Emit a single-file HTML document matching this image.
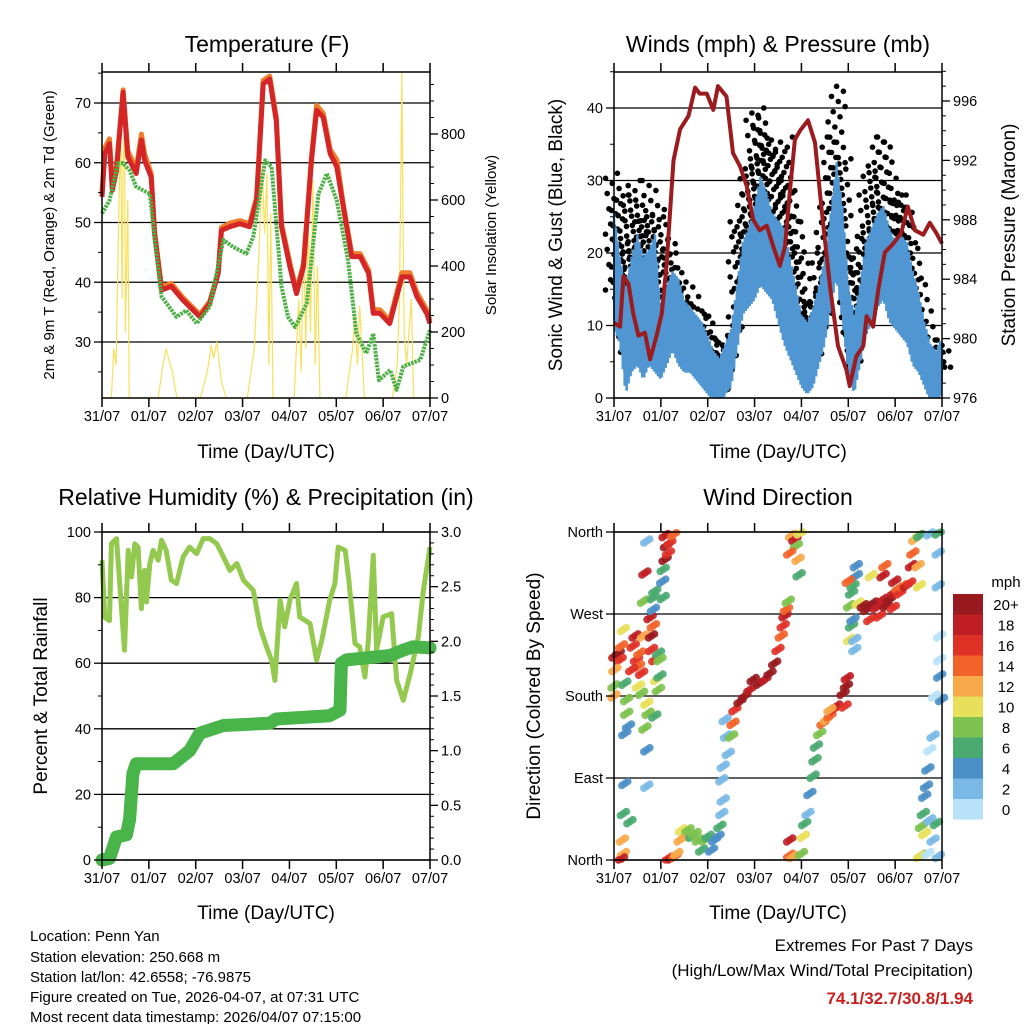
<!DOCTYPE html>
<html><head><meta charset="utf-8"><title>Station Meteogram</title>
<style>
html,body{margin:0;padding:0;background:#fff;}
svg{display:block;font-family:"Liberation Sans",Arial,sans-serif;}
</style></head>
<body>
<svg id="root" width="1024" height="1024" viewBox="0 0 1024 1024" xmlns="http://www.w3.org/2000/svg">
<rect width="1024" height="1024" fill="#fff"/>
<g id="layer-bg"></g>
<g id="layer-data"></g>
<g id="layer-axes"></g>
<g id="layer-text">
 <text x="267" y="52" font-size="23" text-anchor="middle">Temperature (F)</text>
 <text x="778" y="52" font-size="23" text-anchor="middle">Winds (mph) &amp; Pressure (mb)</text>
 <text x="266" y="505" font-size="23" text-anchor="middle">Relative Humidity (%) &amp; Precipitation (in)</text>
 <text x="778" y="505" font-size="23" text-anchor="middle">Wind Direction</text>
 <text x="266" y="458" font-size="19" text-anchor="middle">Time (Day/UTC)</text>
 <text x="778" y="458" font-size="19" text-anchor="middle">Time (Day/UTC)</text>
 <text x="266" y="919" font-size="19" text-anchor="middle">Time (Day/UTC)</text>
 <text x="778" y="919" font-size="19" text-anchor="middle">Time (Day/UTC)</text>
 <text transform="translate(54,235) rotate(-90)" font-size="15" text-anchor="middle">2m &amp; 9m T (Red, Orange) &amp; 2m Td (Green)</text>
 <text transform="translate(496,235) rotate(-90)" font-size="15" text-anchor="middle">Solar Insolation (Yellow)</text>
 <text transform="translate(562,235) rotate(-90)" font-size="19" text-anchor="middle">Sonic Wind &amp; Gust (Blue, Black)</text>
 <text transform="translate(1015,235) rotate(-90)" font-size="19" text-anchor="middle">Station Pressure (Maroon)</text>
 <text transform="translate(47,696) rotate(-90)" font-size="19" text-anchor="middle">Percent &amp; Total Rainfall</text>
 <text transform="translate(540,696) rotate(-90)" font-size="19" text-anchor="middle">Direction (Colored By Speed)</text>
 <g font-size="15">
  <text x="30" y="941">Location: Penn Yan</text>
  <text x="30" y="962">Station elevation: 250.668 m</text>
  <text x="30" y="982">Station lat/lon: 42.6558; -76.9875</text>
  <text x="30" y="1002">Figure created on Tue, 2026-04-07, at 07:31 UTC</text>
  <text x="30" y="1022">Most recent data timestamp: 2026/04/07 07:15:00</text>
 </g>
 <g text-anchor="end">
  <text x="973" y="951" font-size="17">Extremes For Past 7 Days</text>
  <text x="973" y="976" font-size="17">(High/Low/Max Wind/Total Precipitation)</text>
  <text x="973" y="1004" font-size="17" font-weight="bold" fill="#c8201f">74.1/32.7/30.8/1.94</text>
 </g>
 <text x="1006" y="587" font-size="15" text-anchor="middle">mph</text>
</g>
</svg>
<script>
// ---- Shared axis data ----
const dayLabels = ["31/07","01/07","02/07","03/07","04/07","05/07","06/07","07/07"];

// ---- Temperature panel data ----
const tempTimes = [0,0.06,0.16,0.22,0.31,0.45,0.55,0.73,0.84,0.91,1.05,1.12,1.27,1.48,1.73,2.09,2.3,2.48,2.55,2.73,2.94,3.15,3.3,3.44,3.58,3.72,3.83,4.01,4.15,4.3,4.47,4.58,4.72,4.87,5.01,5.15,5.33,5.51,5.69,5.79,5.93,6.14,6.4,6.57,6.72,6.93,7.0];
const tempRed = [54.3,61.5,63.2,55.4,58.7,71.8,61,58.2,63.8,60.4,57.6,48.2,38.7,39.3,37,34.2,36.5,41.5,48.7,49.3,49.8,49.3,53.7,73.2,74,67,49.3,42.6,38.1,42.6,60.4,68.8,67.6,61.5,59.3,52.6,44.3,44.3,41.5,34.8,34.8,33.1,40.9,40.9,37.6,34.8,33.1];
const tempOrange = [55,62.5,64,56,59.5,72.2,62,59,64.8,61.5,58.2,48.6,39.2,39.8,37.4,34.6,36.8,41.8,49.2,49.9,50.3,49.8,54.2,73.8,74.5,67.6,49.8,43.2,38.6,43.1,61,69.6,68.3,62.2,60.5,53.1,44.8,44.8,42,35.4,35.4,33.6,41.6,41.6,38.3,35.4,33.6];
const dewTimes = [0,0.16,0.34,0.45,0.59,0.73,1.02,1.12,1.27,1.59,1.8,2.02,2.3,2.59,2.8,3.08,3.23,3.48,3.62,3.83,3.97,4.12,4.37,4.62,4.8,5.01,5.25,5.43,5.64,5.79,5.91,6.15,6.29,6.43,6.79,7.0];
const dewVals = [51.5,53.7,59.9,59.9,58.7,56,54.8,47.6,37.6,34.2,35.3,33.1,35.9,47.1,45.9,44.8,47.6,60.4,59.3,39.3,34.2,32.5,36.5,54.8,58.2,53.7,43.7,31.4,28.1,31.4,23.6,25.3,22,25.9,27,32];
const solarTimes = [0,0.2,0.25,0.3,0.35,0.4,0.43,0.45,0.48,0.5,0.55,0.58,1.2,1.3,1.37,1.42,1.5,1.6,2.1,2.25,2.33,2.38,2.45,2.55,2.65,3.1,3.25,3.35,3.42,3.47,3.52,3.56,3.6,3.65,4.1,4.2,4.25,4.3,4.35,4.4,4.45,4.5,4.55,4.6,4.65,5.2,5.35,5.4,5.45,5.5,5.6,6.2,6.3,6.35,6.4,6.42,6.45,6.5,6.6,6.65,7.0];
const solarVals = [0,0,150,100,500,820,300,700,850,200,600,0,0,100,150,120,80,0,0,80,160,120,170,50,0,0,150,450,700,500,680,100,560,0,0,300,80,500,150,550,200,660,100,400,0,0,150,250,100,280,0,0,100,300,990,600,200,100,300,0,0];
const tempTicks = [30,40,50,60,70];
const solarTicks = [0,200,400,600,800];

// ---- Wind panel data (3-hourly) ----
const windTimes = [0,0.125,0.25,0.375,0.5,0.625,0.75,0.875,1,1.125,1.25,1.375,1.5,1.625,1.75,1.875,2,2.125,2.25,2.375,2.5,2.625,2.75,2.875,3,3.125,3.25,3.375,3.5,3.625,3.75,3.875,4,4.125,4.25,4.375,4.5,4.625,4.75,4.875,5,5.125,5.25,5.375,5.5,5.625,5.75,5.875,6,6.125,6.25,6.375,6.5,6.625,6.75,6.875,7];
const windHigh = [24,18,14,18,21,18,19,21,10,14,16,15,12,11,10,9,7,5,4,6,8,14,20,22,25,29,27,24,23,22,18,14,10,9,11,14,18,24,31,25,14,10,14,20,22,24,25,22,20,21,20,16,13,9,6,5,7];
const windLow = [11,9,2,5,6,4,6,5,4,6,8,6,5,5,4,3,2,1,0,2,3,8,13,14,15,17,16,15,12,9,7,5,3,2,3,6,9,14,18,12,5,2,6,10,12,14,15,12,11,10,9,6,5,3,1,1,2];
const gustMax = [31,28,22,30,28,25,30,25,26,22,20,18,16,14,13,12,11,9,8,8,10,25,28,33,39,40,37,35,34,36,30,25,20,14,14,20,27,36,43,33,20,18,22,28,32,36,36,31,28,28,27,22,17,12,8,7,8];
const pressTimes = [0,0.13,0.2,0.31,0.41,0.52,0.66,0.77,0.91,1.02,1.12,1.27,1.41,1.59,1.73,1.83,1.98,2.12,2.22,2.4,2.54,2.69,2.83,2.97,3.11,3.26,3.4,3.54,3.65,3.75,3.86,3.97,4.14,4.29,4.43,4.61,4.78,4.96,5.03,5.17,5.32,5.39,5.53,5.64,5.78,5.96,6.13,6.27,6.42,6.6,6.74,6.88,7.0];
const pressVals = [981.05,980.8,984.2,983.7,981.7,980.2,980.4,978.6,980.2,981.7,984.9,992,994.1,995,996.9,996.5,996.5,995.4,997,996.3,992.5,991.6,990.3,988,987.3,987.6,986.2,984.9,986.2,989.8,993.4,994,994.7,993.2,988.7,983.5,979.5,977.9,976.8,978.8,979.5,981.5,980.8,983.3,985.8,986.4,987.1,988.9,987.3,987,987.8,987.1,986.4];
const windTicks = [0,10,20,30,40];
const pressTicks = [976,980,984,988,992,996];

// ---- Humidity / precipitation data ----
const rhTimes = [0,0.06,0.16,0.2,0.31,0.41,0.48,0.56,0.63,0.7,0.77,0.84,0.91,0.95,1.02,1.09,1.2,1.27,1.37,1.48,1.59,1.73,1.87,2.02,2.16,2.3,2.45,2.59,2.73,2.88,3.02,3.23,3.37,3.51,3.62,3.69,3.8,3.9,4.01,4.15,4.22,4.44,4.58,4.69,4.86,4.97,5.04,5.19,5.26,5.4,5.5,5.61,5.68,5.79,5.86,6.0,6.18,6.29,6.43,6.58,6.75,6.86,7.0];
const rhVals = [91.4,74,73,96.4,98,78,64,94.4,86.3,96.4,95.4,76.6,88.3,78.7,90.4,94.4,91.4,97.5,94.4,85.3,84.3,92.4,95.4,93.4,98,98,96.4,92.4,88.3,90.4,85.3,82.2,71.1,65,60.9,54.8,79.2,71.1,79.2,84.3,74.1,72.1,60.9,67,79.2,84.3,95.4,94.4,86.3,66,65,55.8,66,92.9,64,74.1,75.1,54.8,48.7,56.9,68,82.2,95.4];
const rainTimes = [0,0.16,0.31,0.52,0.59,0.66,0.73,1.52,1.87,2.09,2.59,3.58,3.72,4.86,5.08,5.11,5.22,6.15,6.43,6.64,7.0];
const rainVals = [0,0.015,0.21,0.23,0.37,0.79,0.88,0.88,1.0,1.16,1.23,1.25,1.29,1.32,1.37,1.80,1.83,1.87,1.92,1.95,1.94];
const rhTicks = [0,20,40,60,80,100];
const rainTicks = ["0.0","0.5","1.0","1.5","2.0","2.5","3.0"];

// ---- Wind direction data ----
const dirLabels = ["North","East","South","West","North"];
const dirTimes = [
0.02,0.09,0.13,0.02,0,0,0.2,0.16,0.23,0.27,
0.27,0.23,0.31,0.23,0.2,0.34,0.18,0.2,0.16,0.41,
0.45,0.48,0.52,0.38,0.55,0.59,0.52,0.63,0.63,0.66,
0.7,0.77,0.8,0.8,0.84,0.87,0.95,0.98,0.91,0.95,
0.7,0.73,0.87,0.7,0.66,0.7,0.84,0.87,0.98,0.59,
1.09,1.12,1.19,1.27,1.09,1.16,1.05,1.04,1.05,0.84,
1.16,1.23,1.3,1.34,1.41,1.44,1.51,1.58,1.66,1.73,
1.8,1.87,1.94,2.01,2.08,2.15,2.22,2.26,2.3,2.33,
2.3,2.33,2.44,2.4,2.37,2.51,2.54,2.58,2.69,2.79,
2.9,2.97,3.11,3.22,3.33,3.43,3.5,3.57,3.61,3.65,
3.68,3.72,
3.79,3.86,3.89,3.97,3.93,3.95,3.75,
3.75,3.75,3.82,4.0,4.04,4.07,4.14,4.18,4.25,4.29,
4.32,4.39,4.46,4.53,4.61,4.68,4.75,4.61,4.89,4.93,
4.96,4.98,
5.03,5.07,5.1,5.14,5.14,5.03,5.07,5.1,5.17,5.21,
5.32,5.39,5.46,5.53,5.6,5.67,5.74,5.81,5.88,5.96,
5.96,5.99,6.06,6.1,6.17,6.24,6.31,6.35,6.38,6.42,
6.49,6.49,6.52,5.74,5.78,5.49,5.17,5.0,
6.52,6.74,6.92,6.92,6.92,6.95,6.95,6.95,6.99,6.84,
6.81,6.74,6.7,6.67,6.63,6.6,6.56,6.63,6.74,6.81,
6.88,6.92,6.56,6.52,6.7];
const dirDeg = [
224,227,220,209,191,180,253,235,194,176,
161,139,147,84,51,42,22,7,1,235,
246,220,213,209,227,205,191,246,284,315,
350,266,246,231,257,220,227,220,198,187,
172,161,158,121,145,81,288,295,202,183,
356,345,348,357,330,337,319,306,288,275,
2,2,4,7,22,33,26,33,26,29,
22,11,22,26,11,22,26,37,51,66,
88,103,117,136,154,136,150,165,174,180,
187,198,194,198,205,216,231,246,257,268,
275,284,
356,352,345,359,330,313,337,
22,5,4,7,26,40,51,73,92,110,
125,139,150,154,158,165,169,165,183,169,
191,200,
242,257,264,242,231,279,293,301,312,282,
279,275,264,282,277,268,286,279,286,277,
293,306,298,293,301,301,304,323,337,352,
356,323,301,312,323,312,323,306,
356,358,359,337,301,246,220,202,176,180,
136,121,100,81,70,51,37,29,44,22,
40,4,5,4,7];
const dirSpeed = [
18,20,16,12,8,12,10,14,6,8,
8,4,4,4,6,6,12,12,18,16,
18,16,14,16,14,16,10,12,8,18,
2,18,20,16,14,16,6,8,10,8,
10,8,6,4,8,2,6,6,6,8,
18,20,16,14,20,16,6,4,6,4,
16,18,14,12,12,10,12,8,6,8,
8,6,8,6,4,4,4,6,2,2,
2,2,2,2,2,8,14,16,20,20,
18,20,20,18,20,20,16,14,16,18,
14,8,
12,18,8,10,12,6,14,
18,14,12,8,10,6,2,4,6,6,
6,8,14,12,14,16,18,12,20,16,
20,18,
10,6,4,2,2,8,6,6,4,10,
20,20,16,20,18,16,18,20,20,16,
18,18,14,16,14,18,16,18,14,12,
10,12,10,18,14,10,4,14,
6,2,6,2,2,0,0,4,4,0,
2,0,4,4,4,6,8,10,2,2,
6,2,8,10,0];
const speedLabels = ["20+","18","16","14","12","10","8","6","4","2","0"];
const speedColors = ["#981a1e","#bf1e24","#e03127","#f26329","#f8a94a","#e8e05a","#7dc24e","#4aaa70","#4a8fc8","#7ab9e6","#b8e2f7"];

// ---- Helpers ----
const NS = "http://www.w3.org/2000/svg";
const gBg = document.getElementById("layer-bg");
const gData = document.getElementById("layer-data");
const gAx = document.getElementById("layer-axes");
function mk(tag, parent, attrs) {
  const e = document.createElementNS(NS, tag);
  for (const k in attrs) e.setAttribute(k, attrs[k]);
  parent.appendChild(e);
  return e;
}
function lin(d0, d1, r0, r1) { return v => r0 + (v - d0) * (r1 - r0) / (d1 - d0); }
function pathFrom(xs, ys, fx, fy) {
  return xs.map((t, i) => (i ? "L" : "M") + fx(t).toFixed(1) + "," + fy(ys[i]).toFixed(1)).join("");
}

const panels = {
  temp: {x0:102, x1:430, y0:72, y1:398},
  wind: {x0:614, x1:942, y0:72, y1:398},
  rh:   {x0:102, x1:430, y0:532, y1:860},
  dir:  {x0:614, x1:942, y0:532, y1:860}
};

function frame(p, name) {
  const r = mk("rect", gAx, {x:p.x0, y:p.y0, width:p.x1-p.x0, height:p.y1-p.y0, fill:"none", stroke:"#000", "stroke-width":1.5});
  
  
}
function xAxis(p, name) {
  const fx = lin(0, 7, p.x0, p.x1);
  const g = mk("g", gAx, {});
  
  
  for (let d = 0; d <= 7; d++) {
    const x = fx(d);
    mk("line", g, {x1:x, x2:x, y1:p.y1, y2:p.y1+9, stroke:"#000", "stroke-width":1.5});
    mk("line", g, {x1:x, x2:x, y1:p.y0, y2:p.y0-9, stroke:"#000", "stroke-width":1.5});
    const t = mk("text", g, {x:x, y:p.y1+23, "font-size":14.5, "text-anchor":"middle"});
    t.textContent = dayLabels[d];
  }
  return fx;
}
function yTicks(p, side, vals, fy, labels, name, minorVals, grid) {
  const g = mk("g", gAx, {});
  
  
  const xe = side === "left" ? p.x0 : p.x1;
  const dir = side === "left" ? -1 : 1;
  vals.forEach((v, i) => {
    const y = fy(v);
    if (grid) mk("line", gBg, {x1:p.x0, x2:p.x1, y1:y, y2:y, stroke:"#000", "stroke-width":1.3});
    mk("line", g, {x1:xe, x2:xe+dir*8, y1:y, y2:y, stroke:"#000", "stroke-width":1.3});
    const t = mk("text", g, {x:xe+dir*11, y:y+5, "font-size":14.5, "text-anchor": side==="left"?"end":"start"});
    t.textContent = labels[i];
  });
  (minorVals||[]).forEach(v => {
    const y = fy(v);
    mk("line", g, {x1:xe, x2:xe+dir*4, y1:y, y2:y, stroke:"#000", "stroke-width":1});
  });
}

// ===== Temperature panel =====
(function(){
  const p = panels.temp;
  const fx = xAxis(p, "temperature");
  const fy = lin(30, 70, 342, 103);
  const fs = lin(0, 800, 398, 134);
  yTicks(p, "left", tempTicks, fy, tempTicks.map(String), "temperature-y-ticks", [25,35,45,55,65,75], true);
  yTicks(p, "right", solarTicks, fs, solarTicks.map(String), "solar-y-ticks", [50,100,150,250,300,350,450,500,550,650,700,750,850,900,950], false);
  const solar = mk("path", gData, {d:pathFrom(solarTimes, solarVals, fx, fs), fill:"none", stroke:"#f9e05a", "stroke-width":1.2});
  
  
  const orange = mk("path", gData, {d:pathFrom(tempTimes, tempOrange, fx, fy), fill:"none", stroke:"#f07d2c", "stroke-width":5, "stroke-linejoin":"round"});
  
  
  const red = mk("path", gData, {d:pathFrom(tempTimes, tempRed, fx, fy), fill:"none", stroke:"#d42626", "stroke-width":5, "stroke-linejoin":"round"});
  
  
  const dew = mk("path", gData, {d:pathFrom(dewTimes, dewVals, fx, fy), fill:"none", stroke:"#4cb044", "stroke-width":4, "stroke-dasharray":"2.5 1", "stroke-linejoin":"round"});
  
  
  frame(p, "temperature");
})();

// ===== Wind panel =====
(function(){
  const p = panels.wind;
  const fx = xAxis(p, "winds");
  const fy = lin(0, 40, 398, 108);
  const fp = lin(976, 996, 398, 101);
  yTicks(p, "left", windTicks, fy, windTicks.map(String), "wind-y-ticks", [5,15,25,35,45], true);
  yTicks(p, "right", pressTicks, fp, pressTicks.map(String), "pressure-y-ticks", [977,978,979,981,982,983,985,986,987,989,990,991,993,994,995,997,998], false);
  const gg = mk("g", gData, {fill:"#000"});
  
  
  windTimes.forEach((t, i) => {
    const lo = windLow[i] + (windHigh[i]-windLow[i])*0.3;
    const n = Math.max(3, Math.round((gustMax[i]-lo)/0.7));
    for (let k = 0; k <= n; k++) {
      const v = lo + (gustMax[i]-lo)*k/n;
      const off = ((k*7 + i*3) % 11 - 5) * 1.7;
      const c = mk("circle", gg, {cx:(fx(t)+off).toFixed(1), cy:fy(v).toFixed(1), r:2.8});
      
    }
  });
  const top = windTimes.map((t,i)=>fx(t).toFixed(1)+","+fy(windHigh[i]).toFixed(1));
  const bot = windTimes.map((t,i)=>fx(t).toFixed(1)+","+fy(windLow[i]).toFixed(1)).reverse();
  const band = mk("polygon", gData, {points: top.concat(bot).join(" "), fill:"#4f96d2", stroke:"#4f96d2", "stroke-width":2, "stroke-linejoin":"round"});
  
  
  let zz = "";
  for (let i = 0; i < windTimes.length - 1; i++) {
    for (let k = 0; k < 6; k++) {
      const f = k/6;
      const t = windTimes[i] + (windTimes[i+1]-windTimes[i])*f;
      const hi = windHigh[i] + (windHigh[i+1]-windHigh[i])*f;
      const lo = windLow[i] + (windLow[i+1]-windLow[i])*f;
      const v = (k % 2 === 0) ? hi + 1.5 : lo - 1.5;
      zz += (zz ? "L" : "M") + fx(t).toFixed(1) + "," + fy(Math.max(0, v)).toFixed(1);
    }
  }
  const spikes = mk("path", gData, {d:zz, fill:"none", stroke:"#4f96d2", "stroke-width":2.5});
  
  
  const pr = mk("path", gData, {d:pathFrom(pressTimes, pressVals, fx, fp), fill:"none", stroke:"#9b1b1e", "stroke-width":4, "stroke-linejoin":"round"});
  
  
  frame(p, "winds");
})();

// ===== Humidity panel =====
(function(){
  const p = panels.rh;
  const fx = xAxis(p, "humidity");
  const fy = lin(0, 100, 860, 532);
  const fr = lin(0, 3, 860, 532);
  yTicks(p, "left", rhTicks, fy, rhTicks.map(String), "humidity-y-ticks", [10,30,50,70,90], true);
  yTicks(p, "right", rainTicks.map(Number), fr, rainTicks, "rain-y-ticks", [0.1,0.2,0.3,0.4,0.6,0.7,0.8,0.9,1.1,1.2,1.3,1.4,1.6,1.7,1.8,1.9,2.1,2.2,2.3,2.4,2.6,2.7,2.8,2.9], false);
  const rh = mk("path", gData, {d:pathFrom(rhTimes, rhVals, fx, fy), fill:"none", stroke:"#93c94f", "stroke-width":5, "stroke-linejoin":"round"});
  
  
  const rn = mk("path", gData, {d:pathFrom(rainTimes, rainVals, fx, fr), fill:"none", stroke:"#48b449", "stroke-width":13, "stroke-linejoin":"round", "stroke-linecap":"round"});
  
  
  frame(p, "humidity");
})();

// ===== Wind direction panel =====
(function(){
  const p = panels.dir;
  const fx = xAxis(p, "direction");
  const fy = lin(0, 360, 860, 532);
  yTicks(p, "left", [0,90,180,270,360], fy, dirLabels, "direction-y-ticks", [], true);
  const gd = mk("g", gData, {});
  
  
  const n = Math.min(dirTimes.length, dirDeg.length, dirSpeed.length);
  for (let i = 0; i < n; i++) {
    const s = dirSpeed[i];
    const idx = Math.max(0, 10 - Math.min(10, Math.round(s/2)));
    const cx = fx(dirTimes[i]), cy = fy(dirDeg[i]);
    [[0,0],[3,-2],[-3,2]].forEach(o => {
      const c = mk("circle", gd, {cx:(cx+o[0]).toFixed(1), cy:Math.min(860, Math.max(532, cy+o[1])).toFixed(1), r:3.8, fill:speedColors[idx], "fill-opacity":0.9});
      
    });
  }
  frame(p, "direction");
  const lg = mk("g", gAx, {});
  
  
  speedLabels.forEach((lab, i) => {
    const y = 594 + i*20.5;
    const r = mk("rect", lg, {x:953, y:y, width:30, height:20.6, fill:speedColors[i]});
    
    const t = mk("text", lg, {x:1006, y:y+16, "font-size":15, "text-anchor":"middle"});
    t.textContent = lab;
  });
})();
</script>
</body></html>
